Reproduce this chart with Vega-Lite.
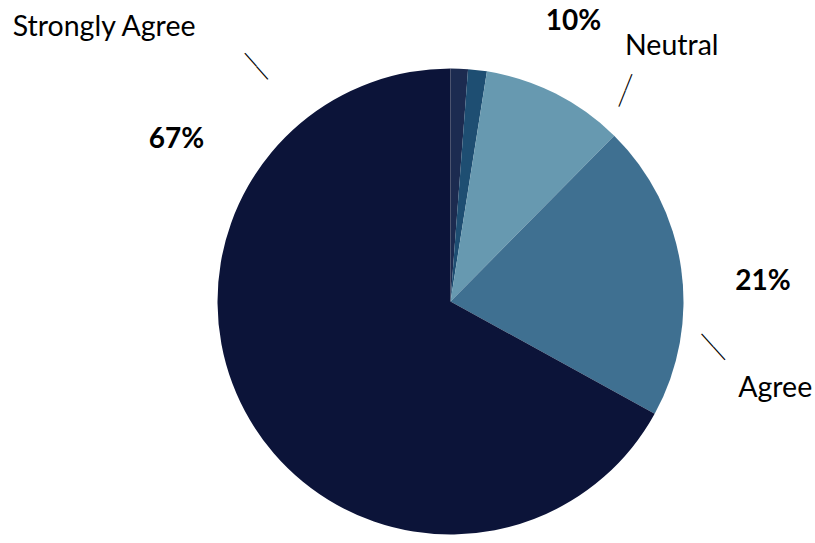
{
  "$schema": "https://vega.github.io/schema/vega-lite/v6.json",
  "width": 729,
  "height": 483,
  "autosize": {"type": "none"},
  "padding": {"left": 86, "top": 60, "right": 0, "bottom": 0},
  "background": "white",
  "view": {"stroke": null},
  "data": {
    "values": [
      {"category": "Strongly Disagree", "value": 1.2, "order": 1, "pct": "1%"},
      {"category": "Disagree", "value": 1.3, "order": 2, "pct": "1%"},
      {"category": "Neutral", "value": 9.9, "order": 3, "pct": "10%"},
      {"category": "Agree", "value": 20.6, "order": 4, "pct": "21%"},
      {"category": "Strongly Agree", "value": 67.0, "order": 5, "pct": "67%"}
    ]
  },
  "encoding": {
    "theta": {"field": "value", "type": "quantitative", "stack": true},
    "order": {"field": "order", "type": "quantitative", "sort": "ascending"}
  },
  "layer": [
    {
      "mark": {"type": "arc", "outerRadius": 233},
      "encoding": {
        "color": {
          "field": "category",
          "type": "nominal",
          "scale": {
            "domain": ["Strongly Disagree", "Disagree", "Neutral", "Agree", "Strongly Agree"],
            "range": ["#1c2b50", "#1e4e72", "#6799b0", "#3f7091", "#0c1439"]
          },
          "legend": null
        }
      }
    },
    {
      "mark": {"type": "text", "radius": 305, "thetaOffset": -0.0529, "font": "Lato", "fontSize": 28, "fontWeight": "bold", "color": "black"},
      "encoding": {"text": {"condition": {"test": "datum.category === 'Neutral'", "field": "pct", "type": "nominal"}, "value": ""}}
    },
    {
      "mark": {"type": "text", "radius": 313, "thetaOffset": 0.0834, "font": "Lato", "fontSize": 28, "fontWeight": "bold", "color": "black"},
      "encoding": {"text": {"condition": {"test": "datum.category === 'Agree'", "field": "pct", "type": "nominal"}, "value": ""}}
    },
    {
      "mark": {"type": "text", "radius": 318, "thetaOffset": 1.0664, "font": "Lato", "fontSize": 28, "fontWeight": "bold", "color": "black"},
      "encoding": {"text": {"condition": {"test": "datum.category === 'Strongly Agree'", "field": "pct", "type": "nominal"}, "value": ""}}
    },
    {
      "mark": {"type": "text", "radius": 338, "thetaOffset": 0.2457, "font": "Lato", "fontSize": 28.5, "color": "black"},
      "encoding": {"text": {"condition": {"test": "datum.category === 'Neutral'", "field": "category", "type": "nominal"}, "value": ""}}
    },
    {
      "mark": {"type": "text", "radius": 336, "thetaOffset": 0.4046, "font": "Lato", "fontSize": 28.5, "color": "black"},
      "encoding": {"text": {"condition": {"test": "datum.category === 'Agree'", "field": "category", "type": "nominal"}, "value": ""}}
    },
    {
      "mark": {"type": "text", "radius": 442, "thetaOffset": 1.2043, "font": "Lato", "fontSize": 28.5, "color": "black"},
      "encoding": {"text": {"condition": {"test": "datum.category === 'Strongly Agree'", "field": "category", "type": "nominal"}, "value": ""}}
    },
    {
      "mark": {"type": "text", "radius": 274, "thetaOffset": 0.2218, "angle": -68.1, "font": "Liberation Sans", "fontSize": 17.5, "color": "black"},
      "encoding": {"text": {"condition": {"test": "datum.category === 'Neutral'", "value": "——"}, "value": ""}}
    },
    {
      "mark": {"type": "text", "radius": 267, "thetaOffset": 0.3133, "angle": 48.1, "font": "Liberation Sans", "fontSize": 17.5, "color": "black"},
      "encoding": {"text": {"condition": {"test": "datum.category === 'Agree'", "value": "——"}, "value": ""}}
    },
    {
      "mark": {"type": "text", "radius": 305, "thetaOffset": 1.4163, "angle": 48.8, "font": "Liberation Sans", "fontSize": 17.5, "color": "black"},
      "encoding": {"text": {"condition": {"test": "datum.category === 'Strongly Agree'", "value": "——"}, "value": ""}}
    }
  ]
}
